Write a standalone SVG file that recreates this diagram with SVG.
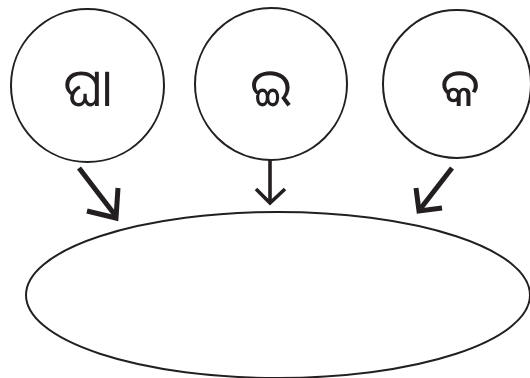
<svg xmlns="http://www.w3.org/2000/svg" width="530" height="378" viewBox="0 0 530 378">
<style>
.node{fill:#fff;stroke:#231f20;stroke-width:2}
.lbl{font-family:"Noto Sans Oriya","Noto Sans",sans-serif;font-size:52px;fill:#231f20;text-anchor:middle}
.conn path{fill:none;stroke:#231f20;stroke-width:5;stroke-linejoin:miter;stroke-miterlimit:10}
.conn .thin{stroke-width:3.6}
</style>
<g id="target">
<ellipse class="node" cx="278" cy="295" rx="252" ry="83"/>
</g>
<g id="node-gha">
<circle class="node" cx="87.5" cy="85.5" r="76.5"/>
<text class="lbl" x="88" y="106">ଘା</text>
</g>
<g id="node-i">
<circle class="node" cx="271" cy="84" r="76"/>
<text class="lbl" x="271" y="106">ଇ</text>
</g>
<g id="node-ka">
<circle class="node" cx="457" cy="84" r="74"/>
<text class="lbl" x="460" y="106">କ</text>
</g>
<g class="conn" id="connectors">
<path d="M79,168 L115,215"/>
<path d="M87,211 L116,218 L118,188"/>
<path class="thin" d="M270,160 L270,203"/>
<path class="thin" d="M256,189 L270,203 L285,189"/>
<path d="M452,168 L421,208"/>
<path d="M416,188 L419,211 L442,208"/>
</g>
</svg>
